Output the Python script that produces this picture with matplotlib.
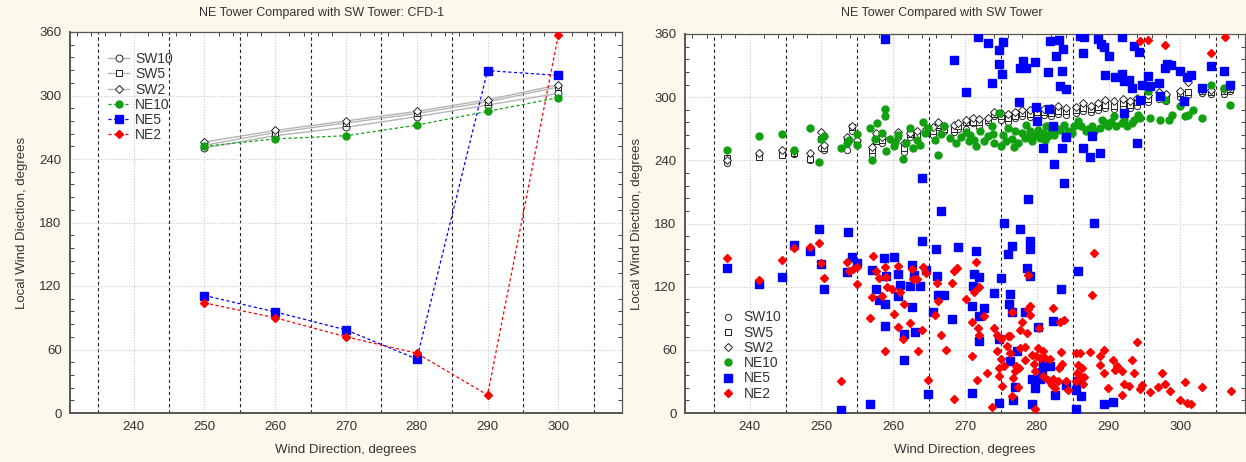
import matplotlib
matplotlib.use("Agg")
import matplotlib.pyplot as plt
from matplotlib.ticker import MultipleLocator

plt.rcParams['font.family'] = ['Liberation Sans', 'DejaVu Sans']

# ---------------- left panel: CFD-1 ----------------
cfd_x = [250, 260, 270, 280, 290, 300]
cfd_sw10 = [250.5, 262, 270, 280, 291, 302]
cfd_sw5 = [253, 265, 274, 283, 294, 308]
cfd_sw2 = [256, 267, 276, 285, 296, 310]
cfd_ne10 = [252, 259, 262, 272, 285, 298]
cfd_ne5 = [111, 95.5, 78.5, 51, 323.5, 319]
cfd_ne2 = [104, 90, 72, 56.5, 17, 357]

# ---------------- right panel: measured ----------------
ne5_x = [236.9, 241.3, 244.5, 246.2, 248.4, 249.7, 250, 250.4, 252.7, 253.7, 253.5, 254.2, 255,
         256.7, 257.1, 257.6, 258, 258.8, 258.7, 258.8, 258.9, 259, 260.1, 260.6, 260.6, 260.9,
         261.5, 261.5, 262.6, 262.6, 262.4, 262.9, 263.1, 263.8, 264, 264, 264.5, 264.9, 265.5,
         266, 266.1, 266.3, 266.7, 267.1, 268.4, 268.2, 269, 270.1, 271, 271, 271.1, 271.5, 271.3,
         271.8, 271.9, 272, 272, 272.6, 273.2, 273.7, 274.1, 274.7, 274.7, 274.8, 274.8, 275,
         275.2, 275.3, 275.4, 276, 276.1, 276.3, 276.5, 276.3, 276.9, 276.7, 276.5, 277.3, 277.5,
         277.7, 277.7, 278.1, 278.5, 278.7, 279, 279.1, 279.1, 278.4, 278.8, 279.3, 279.4, 279.7,
         279.8, 279.9, 280, 280.2, 280.5, 280.7, 280.9, 280.9, 281.6, 281.7, 281.8, 281.9, 282.2,
         282.3, 282.4, 282.6, 282.7, 283.1, 283.3, 283.4, 283.5, 283.5, 283.7, 284.1, 284.1, 283.8,
         284.1, 285.4, 285.5, 285.6, 285.8, 286, 286.6, 286.5, 286.4, 286.2, 287.4, 287.7, 288,
         288.5, 288.8, 289, 289.4, 289.3, 289.5, 290.1, 290.6, 290.9, 291.8, 291.9, 292.1, 292.1,
         292.8, 293.2, 293.5, 293.9, 294.3, 294.4, 294.6, 295.5, 295.8, 297, 297.2, 297.9, 298.1,
         298.7, 299.9, 300.5, 300.9, 301.5, 303, 304.3, 306.1, 306.9]
ne5_y = [138, 123, 129, 160, 154, 175, 141.5, 118, 2.5, 171.6, 134, 148, 142.5,
         9, 136, 118, 107, 103.5, 147, 355, 83, 130, 148, 111.5, 132, 122,
         75, 50, 101, 141, 121, 131, 76.6, 121, 163, 223, 136, 18, 96,
         156, 130, 112.4, 192, 112.4, 335.6, 89.6, 158, 304.6, 19, 102, 121, 153.6, 132,
         357, 92.5, 129, 68, 100, 351.5, 313.5, 114, 70.6, 9.5, 345, 331.5, 128,
         322, 352, 180.5, 151, 103.5, 113, 159, 49.7, 24.7, 12, 96, 58.6, 295,
         174.8, 328, 334.7, 327.7, 137.7, 163.7, 155.8, 130.5, 96, 203.6, 32.6, 8.5, 23.7,
         333.4, 290.7, 277, 81.4, 32.6, 38.6, 47.5, 251.7, 323.6, 288.8, 353, 45, 87,
         273, 236.5, 17.4, 338.8, 354.7, 311, 118, 251.7, 324.6, 346, 307.8, 262, 218.5,
         27, 3.8, 22, 30.7, 134.6, 357.8, 357, 342, 251.7, 16.5, 243, 263.5, 180.5,
         355, 247, 350.5, 347.5, 9, 321.4, 338.8, 10, 319, 357, 322, 315, 285,
         316.5, 308.7, 349, 256.5, 343, 297.7, 312, 320.5, 311, 313.5, 301, 327.6, 331.5,
         330.8, 325, 296, 319, 321.4, 308.7, 329.3, 325, 312]

ne2_x = [236.9, 241.3, 244.5, 246.2, 248.4, 249.7, 250, 250.4, 252.7, 253.5, 253.8, 254.4, 255,
         255, 256.7, 257.1, 257.2, 257.6, 258, 258.5, 258.8, 258.8, 259, 259.2, 259.8, 260.1,
         260.6, 260.7, 260.9, 261.4, 261.5, 262.4, 262.6, 262.7, 263.3, 263.4, 264, 264.2, 264.6,
         264.9, 265.8, 266.1, 266.3, 266.7, 267.3, 268.2, 268.4, 268.9, 268.4, 270.1, 271, 271,
         271.2, 271.5, 271.7, 271.8, 271.9, 272, 272.6, 273.1, 273.8, 274, 274.4, 274.5, 274.7,
         275, 274.8, 275, 275.2, 275.4, 275.8, 276, 276.2, 276.3, 276.5, 276.6, 276.7, 276.9,
         277.1, 277.4, 277.5, 277.7, 277.7, 278, 278.3, 278.4, 278.6, 278.8, 279, 279.1, 278.8,
         279.4, 279.6, 279.8, 279.8, 279.9, 280.2, 280.3, 280.5, 280.8, 280.9, 281.2, 281.6,
         281.9, 282.2, 282.1, 282.3, 282.6, 282.9, 283.1, 283.3, 283.4, 283.5, 283.8, 284, 284.4,
         285.4, 285.5, 285.6, 285.8, 286, 286, 286.3, 286.4, 286.6, 287.4, 287.7, 288, 288.8,
         288.8, 289.3, 289.4, 289.9, 290.6, 290.9, 291.2, 291.9, 291.9, 292.1, 292.8, 293.3,
         293.5, 293.9, 294.4, 294.7, 294.4, 295.5, 295.8, 296.9, 297.5, 297.9, 297.9, 298.6,
         299.9, 300.7, 300.9, 301.5, 303, 304.3, 306.2, 307]
ne2_y = [147, 126.7, 145.7, 156.7, 157.7, 161.5, 142.5, 128, 30.7, 143.4, 134.6, 136.8, 122.5,
         139, 90, 110, 148.8, 134.6, 128, 111.5, 139, 58.6, 129, 119.7, 117.8, 94.4,
         140, 81.7, 114.6, 70.3, 103.9, 85.5, 136.8, 127, 127.6, 58.6, 79, 139, 133,
         31.7, 93.4, 123.5, 106, 74.4, 59.5, 123.5, 134.6, 137.7, 13.6, 108.3, 86, 54.5,
         115.3, 143, 31.7, 80.7, 120, 73.8, 91.8, 38, 5.7, 80.7, 74.4, 58.6, 42.7,
         70.6, 34.8, 51.3, 25.3, 45, 63.3, 72.8, 57, 72.8, 96, 16.5, 33.2, 39.6,
         44.3, 24.7, 42.7, 61.7, 79, 86, 50.6, 62.7, 76, 99, 93.4, 101.7, 131.4,
         55.4, 46.9, 3.8, 39.6, 53.8, 61.7, 80.7, 52.2, 58.6, 34.8, 52.2, 31,
         51.6, 100, 27, 32.6, 23.7, 30, 42.7, 86, 58, 46.5, 88, 30, 21.5,
         30, 57, 38, 46, 34.8, 57, 42.7, 27.6, 34, 58, 112.4, 152, 54.5,
         45.3, 60, 38, 23.7, 50.6, 41, 44.3, 40.2, 17.4, 27.6, 26, 50.6,
         38, 67, 22.8, 27, 353, 354.7, 19.6, 24.4, 38, 27.9, 350, 20.6,
         12.7, 29.4, 9.5, 8.9, 24.4, 342, 357, 20.6]

ne10_x = [236.9, 241.3, 244.5, 246.2, 248.4, 249.7, 250, 250.4, 252.7, 253.5, 253.8, 255, 255,
          256.7, 257.1, 257.4, 257.7, 258.8, 258.8, 258.5, 259, 259.6, 260.1, 260.6, 261.4, 261.8,
          262.4, 262.7, 263.3, 264.1, 264.4, 264.9, 265.8, 266.3, 266.6, 267.1, 267.9, 268.8,
          270.1, 270.7, 271.3, 271.5, 272.1, 272.7, 273.2, 273.8, 274.1, 274.7, 275, 275.3, 275.7,
          276, 276.6, 277, 277.4, 277.9, 278.3, 278.5, 279, 279.4, 279.8, 280.2, 280.5, 280.9,
          281.3, 281.6, 282, 282.4, 282.7, 283.3, 283.8, 284.4, 285.2, 285.8, 286.2, 286.9, 287.7,
          288, 288.8, 289.1, 289.6, 289.9, 290.8, 291.1, 291.8, 292.2, 292.5, 293.3, 293.6, 294.1,
          294.4, 295.5, 295.8, 297.2, 297.8, 298.4, 298.9, 300, 300.7, 301.1, 301.7, 303, 304.3,
          306.1, 306.9, 260.3, 263.8, 269.5, 270.6, 273.9, 276.8, 278.9, 281.1, 283.9, 284.9,
          287.1, 290.3]
ne10_y = [250, 262.8, 264.7, 249.5, 270.4, 238, 260.3, 262.8, 251.7, 256.5, 259, 265.3, 255,
          271, 240, 260, 275.5, 288.8, 281.8, 266, 249, 260, 253.3, 264.4, 241.3, 256.5,
          270.7, 251.7, 259.7, 276.4, 266, 270.7, 259.7, 245.4, 265, 272.3, 261.3, 256.5,
          266.6, 264.4, 259.7, 253.3, 267.5, 258, 262.8, 272.3, 256.5, 285, 253.3, 264.4, 258,
          270.7, 260, 267.5, 256.5, 266, 261.3, 274, 267.5, 258, 264.4, 269, 261.3, 266,
          273, 262.8, 267.5, 264.4, 270.7, 269, 274, 267.5, 272.3, 277, 273, 267.5, 272.3,
          267.5, 270.7, 278, 275.5, 272.3, 281.8, 273, 275, 278, 273, 275.5, 278.7, 283.4,
          280.2, 305.5, 280.2, 278.7, 297.7, 278, 283.4, 291.3, 281.8, 283.4, 288, 280.2, 312,
          308.7, 293, 257, 255, 262, 258, 265, 253, 262, 259, 262, 266,
          270, 276]

sw_x = [236.9, 241.3, 244.5, 246.2, 248.4, 250, 250.4, 253.5, 254.2, 255, 257.1, 257.6, 258.5,
        260.6, 261.5, 262.4, 263.3, 264.5, 265.5, 266.3, 267.1, 268.4, 269, 270.1, 271.1, 272,
        273.2, 274.1, 275, 276, 277, 278, 279, 280, 281, 282, 283, 284, 285.5, 286.5, 287.5,
        288.5, 289.5, 290.8, 292, 293, 294, 295.5, 297, 298, 300, 301, 303, 304.3, 306.1, 306.9]
sw10_y = [237, 245, 247, 246, 240, 252, 250, 250, 268, 255, 245, 262, 256,
          262, 248, 262, 262, 268, 264, 272, 268, 267, 270, 270, 275, 272,
          276, 282, 278, 276, 280, 282, 281, 282, 283, 282, 284, 283, 285, 287, 286,
          288, 290, 289, 291, 290, 292, 295, 298, 296, 300, 302, 304, 303, 303, 306]
sw5_y = [242, 243, 245, 247, 241, 260, 252, 258, 272, 257, 250, 258, 259,
         265, 252, 265, 264, 266, 268, 274, 270, 270, 273, 276, 276, 276,
         278, 284, 282, 280, 282, 285, 284, 286, 286, 285, 287, 287, 288, 290, 289,
         291, 293, 292, 294, 293, 295, 298, 302, 300, 304, 305, 306, 305, 306, 308]
sw2_y = [240, 247, 250, 249, 247, 267, 255, 262, 273, 259, 253, 266, 262,
         267, 256, 266, 268, 270, 272, 276, 273, 274, 275, 278, 280, 279,
         280, 286, 285, 284, 286, 288, 288, 290, 289, 290, 292, 290, 291, 294, 292,
         294, 297, 296, 298, 296, 299, 302, 305, 303, 306, 314, 308, 307, 308, 310]

bg = '#fcf8ec'
green = '#10a010'
blue = '#0000ff'
red = '#ff0000'
txt = '#333333'

fig = plt.figure(figsize=(12.46, 4.62), dpi=100, facecolor=bg)
W, H = 1246, 462
axL = fig.add_axes([70 / W, 1 - 413 / H, (622 - 70) / W, (413 - 32) / H])
axR = fig.add_axes([685 / W, 1 - 413 / H, (1245 - 685) / W, (413 - 34) / H])


def style(ax):
    ax.set_facecolor('white')
    ax.set_xlim(231, 309)
    ax.set_ylim(0, 360)
    ax.xaxis.set_major_locator(MultipleLocator(10))
    ax.yaxis.set_major_locator(MultipleLocator(60))
    ax.xaxis.set_minor_locator(MultipleLocator(2))
    ax.yaxis.set_minor_locator(MultipleLocator(12))
    ax.tick_params(which='both', direction='in', top=True, right=True, colors='#444444',
                   labelcolor=txt, labelsize=9.5)
    ax.tick_params(which='major', length=0, pad=6)
    ax.tick_params(which='minor', length=3, width=0.7)
    ax.tick_params(axis='x', which='minor', bottom=False)
    ax.grid(True, which='major', linestyle=(0, (1, 1.5)), color='#c8c8c8', linewidth=0.8)
    for v in range(235, 310, 10):
        ax.axvline(v, color='#222222', linestyle=(0, (3, 2.5)), linewidth=0.8, zorder=1)
    for s in ax.spines.values():
        s.set_color('#555555')
        s.set_linewidth(0.9)
    ax.spines['left'].set_linewidth(1.4)
    ax.spines['bottom'].set_linewidth(1.4)
    ax.set_xlabel('Wind Direction, degrees', fontsize=9.5, color=txt, labelpad=8)
    ax.set_ylabel('Local Wind Diection, degrees', fontsize=9.5, color=txt, labelpad=8)


style(axL)
style(axR)

sw_kw = dict(color='#b4b4b4', linewidth=1.0, markerfacecolor='white',
             markeredgecolor='#222222', markeredgewidth=0.7, zorder=3)
axL.plot(cfd_x, cfd_sw10, marker='o', markersize=5, label='SW10', **sw_kw)
axL.plot(cfd_x, cfd_sw5, marker='s', markersize=4.5, label='SW5', **sw_kw)
axL.plot(cfd_x, cfd_sw2, marker='D', markersize=4, label='SW2', **sw_kw)
axL.plot(cfd_x, cfd_ne10, marker='o', markersize=5, color=green, linestyle=(0, (2.5, 2)),
         linewidth=0.9, label='NE10', zorder=4)
axL.plot(cfd_x, cfd_ne5, marker='s', markersize=6, color=blue, linestyle=(0, (2.5, 2)),
         linewidth=0.9, label='NE5', zorder=4)
axL.plot(cfd_x, cfd_ne2, marker='D', markersize=4, color=red, linestyle=(0, (2.5, 2)),
         linewidth=0.9, label='NE2', zorder=4)
legL = axL.legend(loc='upper left', bbox_to_anchor=(0.059, 0.962), frameon=False, fontsize=10,
                  handlelength=1.5, handletextpad=0.45, labelspacing=0.09, borderaxespad=0)
for t in legL.get_texts():
    t.set_color(txt)

axR.plot(sw_x, sw10_y, 'o', markersize=4.5, markerfacecolor='white', markeredgecolor='#222222',
         markeredgewidth=0.7, label='SW10', zorder=3)
axR.plot(sw_x, sw5_y, 's', markersize=4.5, markerfacecolor='white', markeredgecolor='#222222',
         markeredgewidth=0.7, label='SW5', zorder=3)
axR.plot(sw_x, sw2_y, 'D', markersize=4, markerfacecolor='white', markeredgecolor='#222222',
         markeredgewidth=0.7, label='SW2', zorder=3)
axR.plot(ne10_x, ne10_y, 'o', markersize=5, color=green, label='NE10', zorder=4)
axR.plot(ne5_x, ne5_y, 's', markersize=5.5, color=blue, label='NE5', zorder=4)
axR.plot(ne2_x, ne2_y, 'D', markersize=4.2, color=red, label='NE2', zorder=4)
legR = axR.legend(loc='lower left', bbox_to_anchor=(0.055, 0.018), frameon=False, fontsize=10,
                  handlelength=1.0, handletextpad=0.6, labelspacing=0.09, borderaxespad=0)
for t in legR.get_texts():
    t.set_color(txt)

fig.text(322 / W, 1 - 13 / H, 'NE Tower Compared with SW Tower: CFD-1', ha='center', va='center',
         fontsize=9, color=txt)
fig.text(942 / W, 1 - 13 / H, 'NE Tower Compared with SW Tower', ha='center', va='center',
         fontsize=9, color=txt)

fig.savefig('out.png', dpi=100, facecolor=bg)
